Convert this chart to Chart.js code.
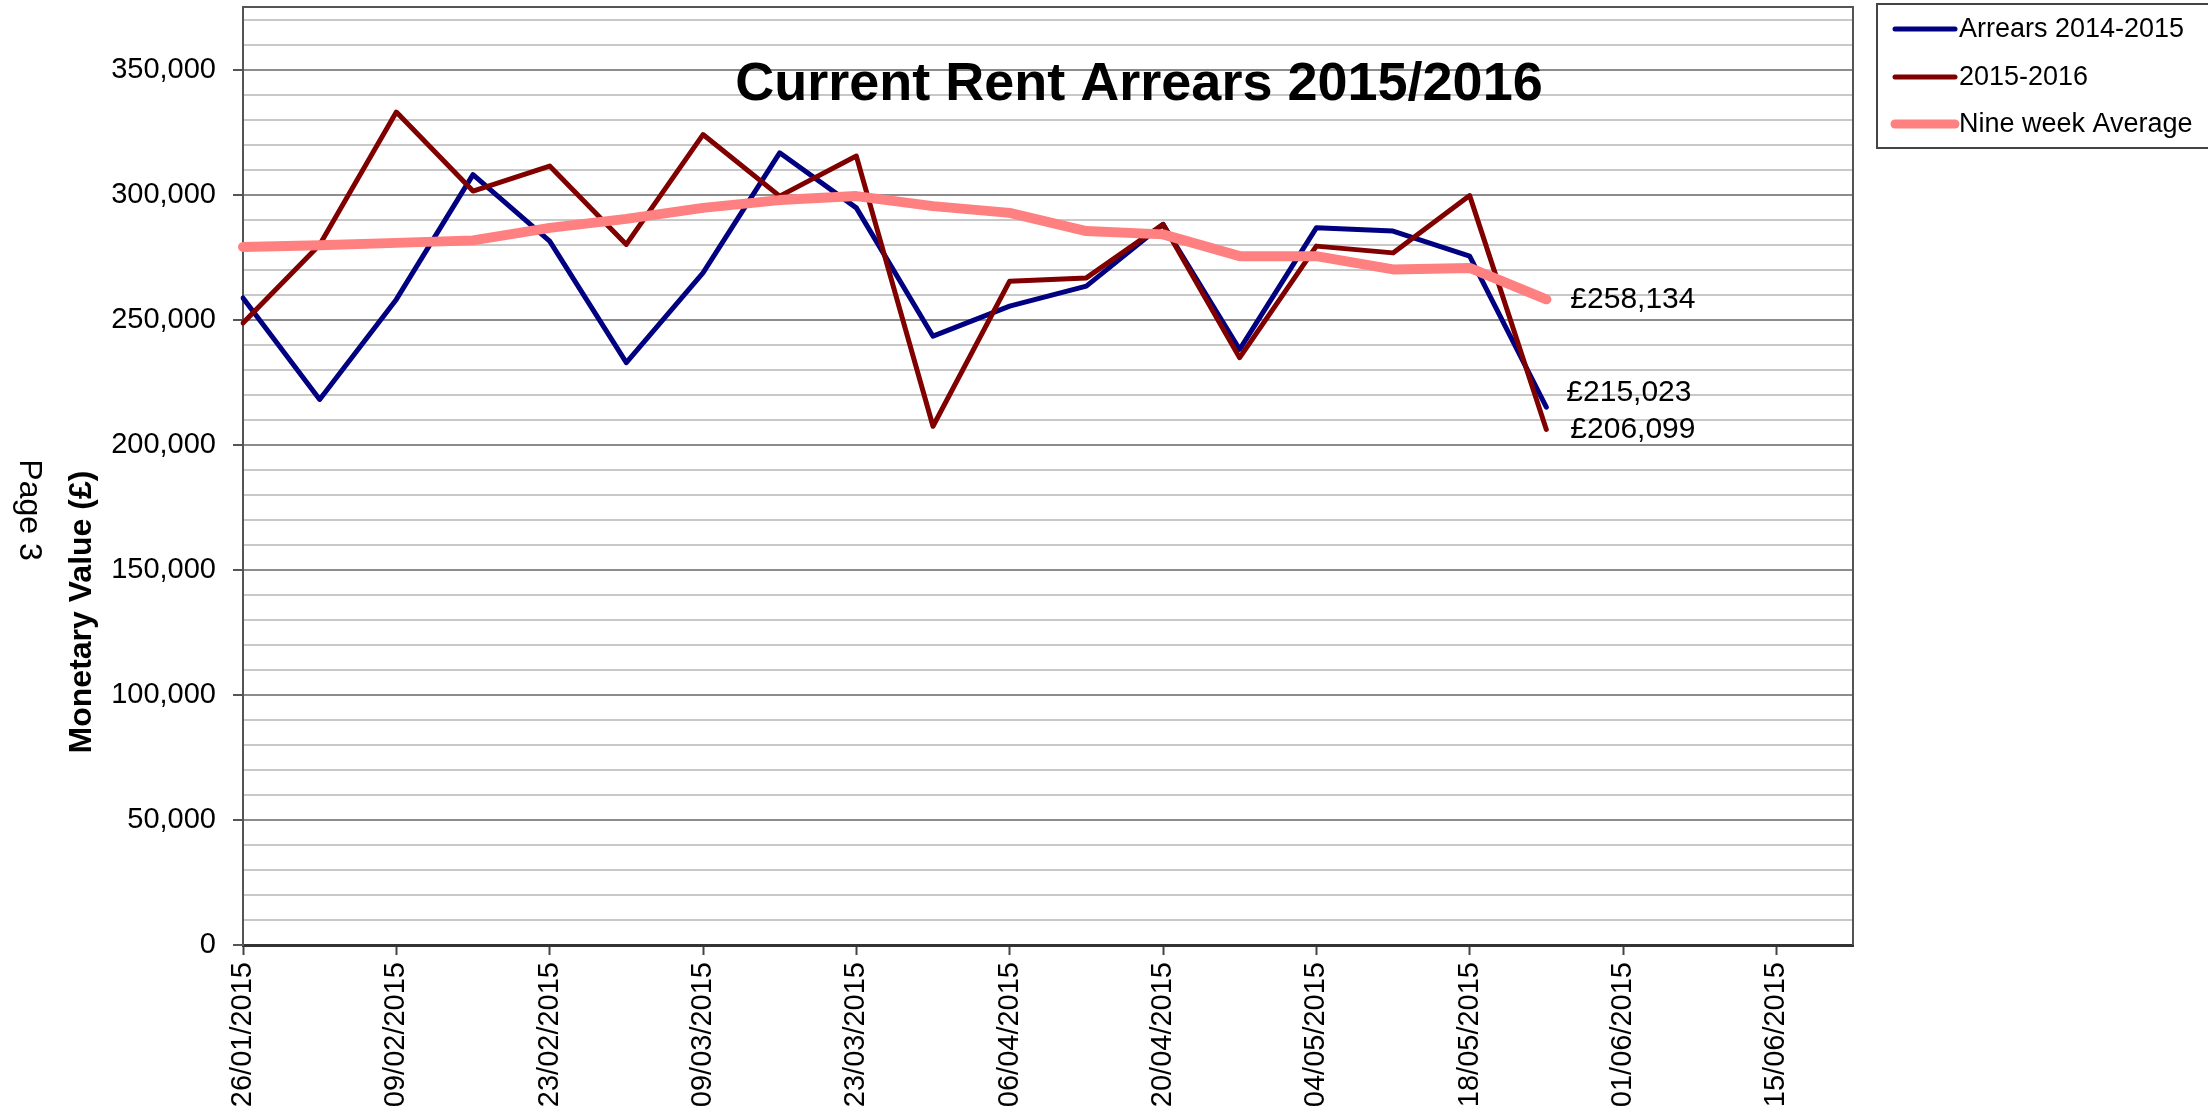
<!DOCTYPE html>
<html>
<head>
<meta charset="utf-8">
<title>Current Rent Arrears 2015/2016</title>
<script src="https://cdn.jsdelivr.net/npm/chart.js@4.4.1/dist/chart.umd.min.js"></script>
<style>
    html, body { margin: 0; padding: 0; background: #fff; }
    canvas { display: block; }
</style>
</head>
<body>
<canvas id="char_arrears" width="2208" height="1116"></canvas>
<script>
// weekly dates, only every second one gets a label
var weeks = [
    "26/01/2015", "02/02/2015", "09/02/2015", "16/02/2015", "23/02/2015", "02/03/2015",
    "09/03/2015", "16/03/2015", "23/03/2015", "30/03/2015", "06/04/2015", "13/04/2015",
    "20/04/2015", "27/04/2015", "04/05/2015", "11/05/2015", "18/05/2015", "25/05/2015",
    "01/06/2015", "08/06/2015", "15/06/2015", "22/06/2015",
];

var arrears1415 = [258700, 218100, 258100, 308000, 281400, 232800, 268700, 316700, 294700,
    243400, 255400, 263400, 288100, 238100, 286700, 285400, 275400, 215023];

var arrears1516 = [248700, 280000, 333000, 301400, 311400, 280100, 324000, 299400, 315400,
    207400, 265400, 266700, 288100, 234800, 279400, 276700, 299600, 206099];

var nineWeekAverage = [279100, 279800, 280700, 281700, 286700, 290300, 294700, 297800, 299400,
    295400, 292700, 285400, 284100, 275400, 275400, 270100, 270700, 258134];

var seriesNames = ["Arrears 2014-2015", "2015-2016", "Nine week Average"];
var seriesColors = ["#000080", "#800000", "#ff8080"];

// y axis: top of the plot, minor grid step, labelled step
var yMax = 375000;
var yMinorStep = 10000;
var yMajorStep = 50000;

var fontFamily = "'Liberation Sans', Arial, sans-serif";

var extrasPlugin = {
    id: "extras",
    afterDraw: function (chart) {
        var ctx = chart.ctx;
        var area = chart.chartArea;
        ctx.save();

        // top and right edge of the plot frame
        ctx.strokeStyle = "#555";
        ctx.lineWidth = 2;
        ctx.beginPath();
        ctx.moveTo(area.left, area.top);
        ctx.lineTo(area.right, area.top);
        ctx.lineTo(area.right, area.bottom);
        ctx.stroke();

        // title sits inside the plot
        ctx.fillStyle = "#000";
        ctx.font = "bold 54px " + fontFamily;
        ctx.textAlign = "center";
        ctx.textBaseline = "alphabetic";
        ctx.fillText("Current Rent Arrears 2015/2016", 1139, 100);

        // y axis title
        ctx.save();
        ctx.translate(82, 612);
        ctx.rotate(-Math.PI / 2);
        ctx.font = "bold 32px " + fontFamily;
        ctx.textBaseline = "middle";
        ctx.fillText("Monetary Value (£)", 0, 0);
        ctx.restore();

        // page number
        ctx.save();
        ctx.translate(29, 510);
        ctx.rotate(Math.PI / 2);
        ctx.font = "32px " + fontFamily;
        ctx.textBaseline = "middle";
        ctx.fillText("Page 3", 0, 0);
        ctx.restore();

        // value labels at the last point of each series
        var offsets = [[20, -14], [24, 0], [24, 0]];
        ctx.font = "30px " + fontFamily;
        ctx.textAlign = "left";
        ctx.textBaseline = "middle";
        chart.data.datasets.forEach(function (ds, i) {
            var meta = chart.getDatasetMeta(i);
            var last = meta.data[meta.data.length - 1];
            var value = ds.data[ds.data.length - 1];
            ctx.fillText("£" + value.toLocaleString("en-GB"), last.x + offsets[i][0], last.y + offsets[i][1]);
        });

        // legend box
        ctx.strokeStyle = "#444";
        ctx.lineWidth = 2;
        ctx.strokeRect(1877, 4, 340, 144);
        ctx.font = "27px " + fontFamily;
        var rows = [29, 77, 124];
        seriesNames.forEach(function (name, i) {
            ctx.strokeStyle = seriesColors[i];
            ctx.lineWidth = i == 2 ? 9 : 5;
            ctx.lineCap = "round";
            ctx.beginPath();
            ctx.moveTo(1895, rows[i]);
            ctx.lineTo(1955, rows[i]);
            ctx.stroke();
            ctx.fillStyle = "#000";
            ctx.fillText(name, 1959, rows[i] + 1);
        });

        ctx.restore();
    },
};

var chart = document.getElementById("char_arrears");
if (chart != null) {
    var arrearsCtx = chart.getContext("2d");
    var myCharArrears = new Chart(arrearsCtx, {
        type: "line",
        data: {
            labels: weeks,
            datasets: [
                {
                    label: seriesNames[0],
                    data: arrears1415,
                    borderColor: seriesColors[0],
                    borderWidth: 5,
                    order: 3,
                },
                {
                    label: seriesNames[1],
                    data: arrears1516,
                    borderColor: seriesColors[1],
                    borderWidth: 5,
                    order: 2,
                },
                {
                    label: seriesNames[2],
                    data: nineWeekAverage,
                    borderColor: seriesColors[2],
                    borderWidth: 10,
                    order: 1,
                },
            ],
        },
        options: {
            responsive: false,
            animation: false,
            elements: {
                point: { radius: 0, hoverRadius: 0 },
                line: { tension: 0, borderJoinStyle: "round", borderCapStyle: "round", fill: false },
            },
            layout: {
                padding: { left: 0, top: 7, right: 355, bottom: 0 },
            },
            plugins: {
                legend: { display: false },
                title: { display: false },
                tooltip: { enabled: false },
            },
            scales: {
                x: {
                    offset: false,
                    afterFit: function (scale) {
                        scale.height = 171;
                        scale.paddingLeft = 0;
                        scale.paddingRight = 0;
                    },
                    border: { color: "#333", width: 3 },
                    grid: {
                        drawOnChartArea: false,
                        drawTicks: true,
                        tickLength: 10,
                        tickWidth: 2,
                        tickColor: function (c) {
                            return c.index % 2 == 0 ? "#444" : "rgba(0,0,0,0)";
                        },
                    },
                    ticks: {
                        autoSkip: false,
                        minRotation: 90,
                        maxRotation: 90,
                        padding: 7,
                        color: "#000",
                        font: { family: fontFamily, size: 29 },
                        callback: function (val, i) {
                            return i % 2 == 0 ? weeks[i] : "";
                        },
                    },
                },
                y: {
                    min: 0,
                    max: yMax,
                    afterBuildTicks: function (scale) {
                        var ticks = [];
                        for (var v = 0; v <= yMax; v += yMinorStep) {
                            ticks.push({ value: v });
                        }
                        scale.ticks = ticks;
                    },
                    afterFit: function (scale) {
                        scale.width = 243;
                        scale.paddingTop = 0;
                        scale.paddingBottom = 0;
                    },
                    border: { color: "#555", width: 2 },
                    grid: {
                        lineWidth: 2,
                        tickLength: 10,
                        color: function (c) {
                            return c.tick && c.tick.value % yMajorStep == 0 ? "#8c8c8c" : "#c8c8c8";
                        },
                        tickColor: function (c) {
                            return c.tick && c.tick.value % yMajorStep == 0 ? "#555" : "rgba(0,0,0,0)";
                        },
                    },
                    ticks: {
                        autoSkip: false,
                        padding: 17,
                        color: "#000",
                        font: { family: fontFamily, size: 29 },
                        callback: function (val) {
                            return val % yMajorStep == 0 ? val.toLocaleString("en-GB") : "";
                        },
                    },
                },
            },
        },
        plugins: [extrasPlugin],
    });
}
</script>
</body>
</html>
